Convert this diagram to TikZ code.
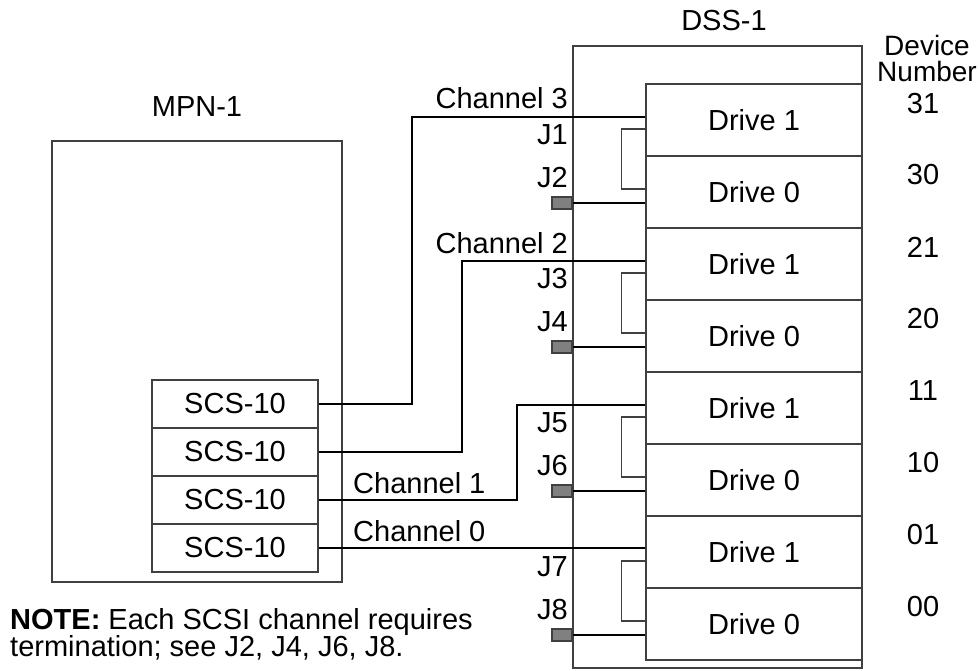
\documentclass[tikz,border=0pt]{standalone}
\usepackage{fontspec}
\setmainfont{Liberation Sans}
\definecolor{boxc}{HTML}{404040}
\definecolor{termc}{HTML}{808080}
\begin{document}
\begin{tikzpicture}[x=1pt,y=-1pt,
  every node/.style={font=\fontsize{29}{33}\selectfont, inner sep=0pt},
  outer/.style={draw=boxc, line width=1.6pt, rectangle},
  card/.style={draw=boxc, line width=1.4pt, rectangle, minimum width=166pt, minimum height=48pt},
  drive/.style={draw=boxc, line width=1.6pt, rectangle, minimum width=216pt, minimum height=72pt},
  term/.style={draw=boxc, fill=termc, line width=1.2pt, rectangle, minimum width=20pt, minimum height=12pt},
  wire/.style={draw=black, line width=1.1pt},
  loopw/.style={draw=boxc, line width=1.4pt},
  lbl/.style={anchor=east},
  lbll/.style={anchor=west}]
\useasboundingbox (0,0) rectangle (979,671);
\fill[white] (0,0) rectangle (979,671);

% outer boxes
\node[outer, minimum width=290pt, minimum height=441pt] (mpn) at (197,361.5) {};
\node[outer, minimum width=289pt, minimum height=622pt] (dss) at (717.5,357) {};
\node (mpnl) at (197,107) {MPN-1};
\node (dssl) at (724,21) {DSS-1};
\node[font=\fontsize{28}{26}\selectfont, align=center] (dev) at (927,58) {Device\\Number};

% SCS cards
\node[card] (s1) at (235,404) {SCS-10};
\node[card] (s2) at (235,452) {SCS-10};
\node[card] (s3) at (235,500) {SCS-10};
\node[card] (s4) at (235,548) {SCS-10};

% drives
\node[drive] (d31) at (754,120) {Drive 1};
\node[drive] (d30) at (754,192) {Drive 0};
\node[drive] (d21) at (754,264) {Drive 1};
\node[drive] (d20) at (754,336) {Drive 0};
\node[drive] (d11) at (754,408) {Drive 1};
\node[drive] (d10) at (754,480) {Drive 0};
\node[drive] (d01) at (754,552) {Drive 1};
\node[drive] (d00) at (754,624) {Drive 0};

% device numbers
\node (n31) at (923,104) {31};
\node (n30) at (923,175) {30};
\node (n21) at (923,247) {21};
\node (n20) at (923,319) {20};
\node (n11) at (923,391) {11};
\node (n10) at (923,463) {10};
\node (n01) at (923,535) {01};
\node (n00) at (923,607) {00};

% channel labels
\node[lbl] (ch3l) at (568,98) {Channel 3};
\node[lbl] (ch2l) at (568,243) {Channel 2};
\node[lbll] (ch1l) at (353,483) {Channel 1};
\node[lbll] (ch0l) at (353,531) {Channel 0};

% J labels
\node[lbl] (j1) at (568,135) {J1};
\node[lbl] (j2) at (568,178) {J2};
\node[lbl] (j3) at (568,279) {J3};
\node[lbl] (j4) at (568,322) {J4};
\node[lbl] (j5) at (568,423) {J5};
\node[lbl] (j6) at (568,466) {J6};
\node[lbl] (j7) at (568,567) {J7};
\node[lbl] (j8) at (568,610) {J8};

% terminators
\node[term] (t2) at (562,203) {};
\node[term] (t4) at (562,347) {};
\node[term] (t6) at (562,491) {};
\node[term] (t8) at (562,635) {};

% channel wires
\coordinate (c3) at (412,117);
\coordinate (c2) at (462,261);
\coordinate (c1) at (517,405);
\draw[wire] (s1.east) -| (c3) -- (c3 -| d31.west);
\draw[wire] (s2.east) -| (c2) -- (c2 -| d21.west);
\draw[wire] (s3.east) -| (c1) -- (c1 -| d11.west);
\draw[wire] (s4.east) -- (s4.east -| d01.west);

% terminator wires
\draw[wire] (t2.east) -- (t2.east -| d30.west);
\draw[wire] (t4.east) -- (t4.east -| d20.west);
\draw[wire] (t6.east) -- (t6.east -| d10.west);
\draw[wire] (t8.east) -- (t8.east -| d00.west);

% loop-through cables between drives
\draw[loopw] ([yshift=-9pt]d31.west) -- ++(-24,0) |- ([yshift=3pt]d30.west);
\draw[loopw] ([yshift=-9pt]d21.west) -- ++(-24,0) |- ([yshift=3pt]d20.west);
\draw[loopw] ([yshift=-9pt]d11.west) -- ++(-24,0) |- ([yshift=3pt]d10.west);
\draw[loopw] ([yshift=-9pt]d01.west) -- ++(-24,0) |- ([yshift=3pt]d00.west);

% note
\node[lbll] (note1) at (10,622) {\textbf{NOTE:} Each SCSI channel requires};
\node[lbll] (note2) at (10,648) {termination; see J2, J4, J6, J8.};
\end{tikzpicture}
\end{document}
